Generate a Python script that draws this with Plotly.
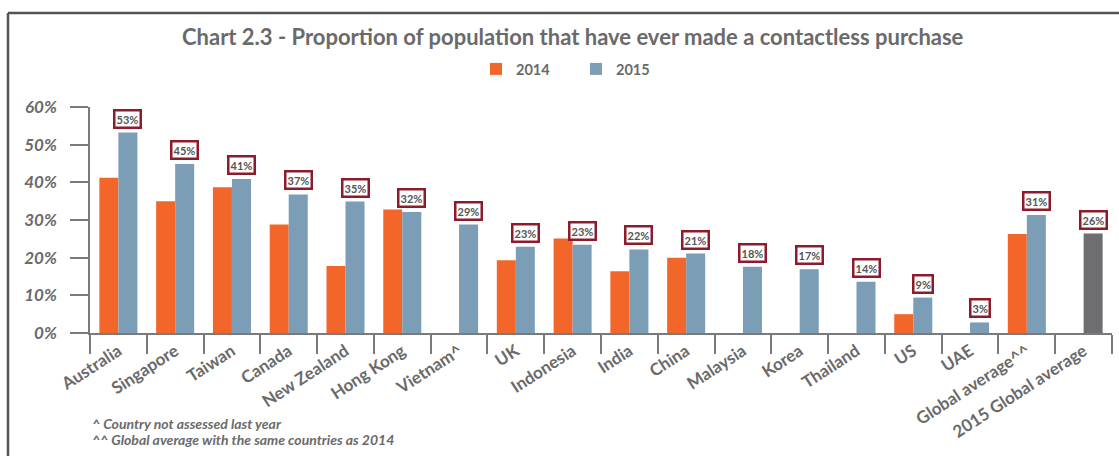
import plotly.graph_objects as go

categories = ["Australia", "Singapore", "Taiwan", "Canada", "New Zealand", "Hong Kong",
              "Vietnam^", "UK", "Indonesia", "India", "China", "Malaysia", "Korea",
              "Thailand", "US", "UAE", "Global average^^", "2015 Global average"]
v2014 = [41.2, 35.0, 38.7, 28.8, 17.8, 32.8, None, 19.3, 25.1, 16.4, 20.0, None, None,
         None, 5.0, None, 26.3, None]
v2015 = [53.2, 44.9, 40.9, 36.8, 34.9, 32.1, 28.8, 22.9, 23.4, 22.2, 21.1, 17.6, 16.9,
         13.6, 9.4, 2.8, 31.3, 26.4]
y_ticks = [0, 10, 20, 30, 40, 50, 60]
footnotes = ["^ Country not assessed last year",
             "^^ Global average with the same countries as 2014"]
title = "Chart 2.3 - Proportion of population that have ever made a contactless purchase"

ORANGE = "#F3662A"
BLUE = "#7B9DB6"
GREY_BAR = "#6D6D72"
TXT = "#6A6A6A"
BOX = "#8E1B2C"
FONT = "Lato"

W, H = 1119, 456
ML, MR, MT, MB = 90, 7, 107, 123
pw = W - ML - MR
ph = H - MT - MB


def px_x(px):
    return (px - ML) / pw


def px_y(py):
    return (H - MB - py) / ph


colors2015 = [BLUE] * (len(categories) - 1) + [GREY_BAR]

fig = go.Figure()
fig.add_trace(go.Bar(x=categories, y=v2014, name="2014", marker_color=ORANGE,
                     marker_line_width=0))
fig.add_trace(go.Bar(x=categories, y=v2015, name="2015", marker_color=colors2015,
                     marker_line_width=0))

annotations = []
for c, v in zip(categories, v2015):
    annotations.append(dict(
        x=c, y=v, xref="x", yref="y", text=f"<b>{round(v)}%</b>", showarrow=False,
        xshift=9.5, yshift=4, yanchor="bottom", xanchor="center",
        font=dict(family=FONT, size=11, color="#555555"),
        bgcolor="white", bordercolor=BOX, borderwidth=2.5, borderpad=1))

annotations.append(dict(x=px_x(573), y=px_y(37), xref="paper", yref="paper",
                        xanchor="center", yanchor="middle", showarrow=False,
                        text=f"<b>{title}</b>",
                        font=dict(family=FONT, size=22, color=TXT)))

for i, t in enumerate(footnotes):
    annotations.append(dict(x=px_x(90), y=px_y(423 + 16 * i),
                            xref="paper", yref="paper", xanchor="left", yanchor="middle",
                            showarrow=False, text=f"<b><i>{t}</i></b>",
                            font=dict(family=FONT, size=14, color=TXT)))

shapes = [
    dict(type="line", xref="paper", yref="paper",
         x0=px_x(8), x1=px_x(W + 5), y0=px_y(13), y1=px_y(13),
         line=dict(color="#555555", width=2.5)),
    dict(type="line", xref="paper", yref="paper",
         x0=px_x(8), x1=px_x(8), y0=px_y(13), y1=px_y(H + 5),
         line=dict(color="#555555", width=2.5)),
]

fig.update_layout(
    width=W, height=H,
    margin=dict(l=ML, r=MR, t=MT, b=MB),
    paper_bgcolor="white", plot_bgcolor="white",
    barmode="group", bargap=0.33, bargroupgap=0,
    showlegend=True,
    legend=dict(orientation="h", x=px_x(476), xanchor="left",
                y=px_y(69), yanchor="middle",
                entrywidth=55, entrywidthmode="pixels",
                font=dict(family=FONT, size=14.5, color=TXT, weight="bold"),
                bgcolor="rgba(0,0,0,0)"),
    annotations=annotations, shapes=shapes,
    font=dict(family=FONT, color=TXT),
)
fig.update_xaxes(
    type="category", showline=True, linecolor="#7A7A7A", linewidth=1.5,
    ticks="outside", tickson="boundaries", ticklen=19, tickcolor="#7A7A7A",
    tickwidth=1.5, tickangle=-33, showgrid=False,
    tickfont=dict(family=FONT, size=17, color=TXT, weight="bold"),
)
fig.update_yaxes(
    range=[0, 60], tickvals=y_ticks, ticktext=[f"{t}%" for t in y_ticks],
    showline=True, linecolor="#7A7A7A", linewidth=1.5, ticks="outside",
    ticklen=18, tickcolor="#7A7A7A", tickwidth=1.5, showgrid=False, zeroline=False,
    ticklabelstandoff=10,
    tickfont=dict(family=FONT, size=17, color=TXT, weight="bold", style="italic"),
)

fig.write_html("out.html", config={"displayModeBar": False},
               post_script="document.body.style.margin='0';")
